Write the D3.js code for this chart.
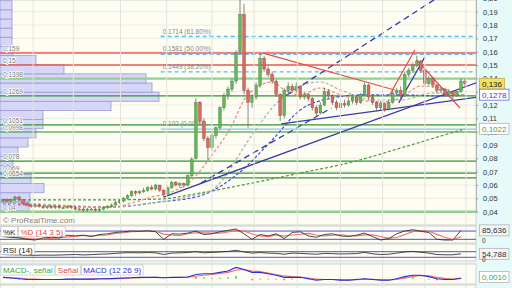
<!DOCTYPE html>
<html>
<head>
<meta charset="utf-8">
<script src="https://cdn.jsdelivr.net/npm/d3@7"></script>
<style>
html, body { margin: 0; padding: 0; background: #fff; }
svg { display: block; font-family: "Liberation Sans", Arial, sans-serif; }
</style>
</head>
<body>
<div id="chart"></div>
<script>
// daily candles (price in EUR)
const opens  = [0.048,0.049,0.048,0.049,0.051,0.049,0.046,0.045,0.044,0.045,0.044,0.043,0.044,0.043,0.044,0.043,0.043,0.044,0.043,0.042,0.042,0.041,0.042,0.042,0.041,0.042,0.043,0.044,0.045,0.047,0.048,0.050,0.052,0.055,0.054,0.055,0.056,0.058,0.057,0.060,0.056,0.053,0.058,0.062,0.060,0.061,0.060,0.067,0.080,0.122,0.108,0.095,0.088,0.097,0.103,0.118,0.127,0.132,0.138,0.160,0.188,0.131,0.122,0.126,0.135,0.155,0.147,0.143,0.138,0.128,0.112,0.131,0.134,0.131,0.134,0.126,0.128,0.125,0.118,0.114,0.120,0.130,0.127,0.122,0.118,0.121,0.120,0.123,0.126,0.122,0.128,0.135,0.126,0.122,0.118,0.121,0.117,0.122,0.129,0.131,0.127,0.143,0.146,0.150,0.153,0.146,0.136,0.140,0.135,0.131,0.132,0.128,0.130,0.127,0.130,0.138];
const highs  = [0.050,0.050,0.050,0.052,0.052,0.049,0.047,0.046,0.046,0.046,0.045,0.045,0.045,0.045,0.045,0.044,0.045,0.045,0.044,0.043,0.043,0.043,0.043,0.043,0.043,0.044,0.045,0.046,0.048,0.049,0.051,0.053,0.056,0.056,0.056,0.058,0.059,0.060,0.061,0.060,0.057,0.059,0.063,0.063,0.062,0.062,0.068,0.081,0.125,0.123,0.110,0.097,0.099,0.104,0.119,0.129,0.134,0.140,0.161,0.199,0.196,0.133,0.128,0.137,0.159,0.157,0.149,0.145,0.139,0.129,0.133,0.137,0.136,0.137,0.135,0.130,0.129,0.126,0.120,0.122,0.133,0.132,0.128,0.124,0.123,0.124,0.125,0.128,0.127,0.129,0.137,0.136,0.128,0.123,0.123,0.122,0.124,0.131,0.133,0.134,0.145,0.148,0.152,0.157,0.154,0.147,0.142,0.141,0.136,0.134,0.133,0.132,0.131,0.131,0.140,0.140];
const lows   = [0.047,0.047,0.047,0.048,0.048,0.045,0.044,0.043,0.043,0.043,0.042,0.042,0.042,0.042,0.042,0.042,0.042,0.042,0.041,0.041,0.040,0.040,0.041,0.040,0.040,0.041,0.042,0.043,0.044,0.046,0.047,0.049,0.051,0.052,0.053,0.054,0.055,0.056,0.056,0.055,0.051,0.052,0.057,0.059,0.058,0.058,0.059,0.066,0.079,0.106,0.093,0.079,0.086,0.095,0.101,0.116,0.124,0.130,0.136,0.158,0.128,0.103,0.118,0.124,0.133,0.145,0.141,0.136,0.126,0.108,0.110,0.129,0.129,0.129,0.124,0.124,0.123,0.116,0.111,0.113,0.119,0.125,0.120,0.116,0.117,0.118,0.119,0.121,0.120,0.121,0.127,0.124,0.120,0.115,0.116,0.115,0.116,0.121,0.127,0.124,0.126,0.141,0.144,0.148,0.144,0.134,0.135,0.133,0.129,0.129,0.126,0.127,0.124,0.126,0.129,0.134];
const closes = [0.049,0.048,0.049,0.051,0.049,0.046,0.045,0.044,0.045,0.044,0.043,0.044,0.043,0.044,0.043,0.043,0.044,0.043,0.042,0.042,0.041,0.042,0.042,0.041,0.042,0.043,0.044,0.045,0.047,0.048,0.050,0.052,0.055,0.054,0.055,0.056,0.058,0.057,0.060,0.056,0.053,0.058,0.062,0.060,0.061,0.060,0.067,0.079,0.122,0.108,0.095,0.088,0.097,0.103,0.118,0.127,0.132,0.138,0.159,0.188,0.131,0.122,0.126,0.135,0.155,0.147,0.143,0.138,0.128,0.112,0.131,0.134,0.131,0.134,0.126,0.128,0.125,0.118,0.114,0.120,0.130,0.127,0.122,0.118,0.121,0.120,0.123,0.126,0.122,0.128,0.135,0.126,0.122,0.118,0.121,0.117,0.122,0.129,0.131,0.127,0.143,0.146,0.150,0.153,0.146,0.136,0.140,0.135,0.131,0.132,0.128,0.130,0.127,0.130,0.138,0.136];

// moving averages: [candle index, price]
const maFast = [[0,0.0465],[9,0.045],[19,0.0435],[27,0.0435],[32,0.0465],[37,0.051],[42,0.0548],[47,0.0638],[52,0.0825],[57,0.105],[60,0.1238],[63,0.1328],[67,0.1373],[70,0.1313],[74,0.1276],[79,0.1328],[84,0.1276],[89,0.1238],[94,0.1223],[99,0.1253],[104,0.1343],[109,0.1328],[114,0.126]];
const maMid  = [[0,0.0473],[14,0.045],[27,0.0435],[37,0.0465],[47,0.0518],[52,0.0563],[62,0.0975],[67,0.1178],[72,0.1313],[79,0.1373],[84,0.1313],[92,0.1238],[99,0.1238],[107,0.129],[115,0.1276]];
const maSlow = [[0,0.0458],[14,0.0443],[27,0.0435],[39,0.0473],[49,0.0518],[59,0.0698],[67,0.0938],[74,0.1163],[82,0.1253],[89,0.1276],[99,0.1276],[109,0.1268],[115,0.1278]];
const maLong = [[0,0.0488],[24,0.0488],[39,0.0495],[49,0.054],[62,0.0615],[74,0.069],[87,0.0773],[99,0.0878],[115,0.1022]];

// trend lines: [index0, price0, index1, price1]
const navyLines   = [[40,0.051,118.25,0.1372],[69.25,0.1058,118.25,0.126],[98.5,0.1215,105,0.156]];
const navyDashed  = [[70.5,0.1272,117.5,0.2188],[49.25,0.0615,81.75,0.1178]];
const redLines    = [[64.75,0.159,97.5,0.1313],[96.25,0.1275,102.5,0.1613],[103,0.1538,113.75,0.1178]];

// horizontal levels
const redLevels   = [0.159, 0.15];
const paleLevels  = [0.1398, 0.04];
const greenLevels = [0.1269, 0.1051, 0.0998, 0.078, 0.069, 0.0654];
const fibLevels   = [0.1714, 0.1581, 0.1449];
const fibPct      = ["61.80%", "50.00%", "38.20%"];
const fibBase     = 0.102;
const fibStart    = 39.25;

// volume profile, bottom bin first
const vpBottom = 0.0405, vpStep = 0.00686;
const vpVolumes = [2.9,3.0,4.4,3.1,1.3,1.3,1.8,2.8,3.6,4.3,4.3,11.1,15.9,15.2,14.6,6.4,3.6,1.3,1.2,1.2,1.2,1.2,1.2];

const priceTicks = [0.04,0.05,0.06,0.07,0.08,0.09,0.10,0.11,0.12,0.13,0.14,0.15,0.16,0.17,0.18,0.19,0.20];
const gridIdx = [7.5,17.5,29.25,40.75,52,62.5,73.25,84,94.5,105,115.25];

// indicators, one value every 2 candles
const stochK = [40,35,30,20,15,30,35,30,50,45,50,40,55,60,70,75,80,78,82,75,20,60,58,65,80,55,60,75,85,95,60,20,55,45,60,25,70,75,45,35,55,60,45,40,50,65,40,15,25,60,80,90,78,70,20,15,15,85];
const stochD = [42,38,33,27,22,22,27,32,38,42,48,45,48,52,62,68,75,78,80,78,58,52,46,61,68,67,65,65,73,85,80,58,45,40,52,43,52,57,63,52,45,50,53,48,45,52,52,40,27,33,55,76,83,79,56,35,17,38];
const rsi = [50,48,47,45,44,46,45,46,48,50,47,49,52,54,58,62,63,62,64,62,50,60,62,64,70,62,65,68,72,80,68,60,64,60,58,52,60,58,55,52,58,56,54,55,57,65,55,50,52,60,68,72,66,60,50,48,48,55];
const macd = [0.002,0.001,0,-0.001,-0.001,-0.001,-0.001,-0.001,-0.0005,-0.0005,-0.0005,-0.0005,0,0,0.0005,0.001,0.0015,0.002,0.002,0.002,0.0015,0.002,0.002,0.0025,0.006,0.007,0.007,0.009,0.011,0.016,0.013,0.009,0.009,0.007,0.005,0.002,0.002,0.002,0,-0.002,-0.001,-0.001,-0.002,-0.002,-0.001,0,-0.001,-0.002,-0.002,0,0.003,0.005,0.005,0.003,0,-0.001,-0.001,0.001];
const signal = [0.002,0.0015,0.001,0,-0.0005,-0.001,-0.001,-0.001,-0.001,-0.0008,-0.0006,-0.0005,-0.0003,-0.0002,0,0.0005,0.001,0.0015,0.0018,0.002,0.0018,0.0018,0.002,0.0022,0.0035,0.005,0.006,0.0075,0.009,0.012,0.013,0.011,0.010,0.008,0.006,0.004,0.003,0.0025,0.001,-0.0005,-0.001,-0.001,-0.0015,-0.0018,-0.0015,-0.0008,-0.0008,-0.0015,-0.0018,-0.001,0.001,0.003,0.0045,0.004,0.002,0.0005,-0.0005,0];

const W = 512, H = 288, R = 476;
const n = closes.length;
const fmt = v => String(v).replace('.', ',');

const svg = d3.select('#chart').append('svg').attr('width', W).attr('height', H);
svg.append('rect').attr('width', W).attr('height', H).attr('fill', '#e6fafa');

const xi = d3.scaleLinear().domain([-0.5, n - 0.5]).range([1, 467]);
const step = xi(1) - xi(0);
const bw = step * 0.68;
const y = d3.scaleLinear().domain([0.04, 0.20]).range([211.7, -1.6]);

// panels
const panels = [[0, 225], [226, 243], [244, 261], [264, 284], [285, 300]];
panels.forEach(p => {
  svg.append('rect').attr('x', 0).attr('y', p[0]).attr('width', R).attr('height', p[1] - p[0])
    .attr('fill', '#fdfdf3').attr('stroke', '#c9c9c9').attr('stroke-width', 0.8);
});

svg.append('defs').append('clipPath').attr('id', 'main')
  .append('rect').attr('x', 0).attr('y', 0).attr('width', R).attr('height', 225);
const main = svg.append('g').attr('clip-path', 'url(#main)');

// grid
main.selectAll('.hg').data(priceTicks).enter().append('line')
  .attr('x1', 0).attr('x2', R).attr('y1', d => y(d)).attr('y2', d => y(d))
  .attr('stroke', '#ebebe2').attr('stroke-width', 1);
gridIdx.forEach(g => {
  svg.append('line').attr('x1', xi(g)).attr('x2', xi(g)).attr('y1', 0).attr('y2', 288)
    .attr('stroke', '#e4e4dc').attr('stroke-width', 1);
});

// volume profile
const vpX = d3.scaleLinear().domain([0, 16]).range([0, 160]);
main.selectAll('.vp').data(vpVolumes).enter().append('rect')
  .attr('x', 0)
  .attr('y', (d, k) => y(vpBottom + (k + 1) * vpStep))
  .attr('width', d => vpX(d))
  .attr('height', (d, k) => y(vpBottom + k * vpStep) - y(vpBottom + (k + 1) * vpStep))
  .attr('fill', '#d6d6f6').attr('stroke', '#9a9ad8').attr('stroke-width', 0.8);

// horizontal levels
const hline = (v, color, w) => main.append('line').attr('x1', 0).attr('x2', R)
  .attr('y1', y(v)).attr('y2', y(v)).attr('stroke', color).attr('stroke-width', w);
paleLevels.forEach(v => hline(v, '#92d092', 2.4));
greenLevels.forEach(v => hline(v, '#2f962f', 1.2));
redLevels.forEach(v => hline(v, '#e85a5a', 1.4));

// fibonacci
fibLevels.forEach((v, k) => {
  main.append('line').attr('x1', xi(fibStart)).attr('x2', R).attr('y1', y(v)).attr('y2', y(v))
    .attr('stroke', '#4ec0ef').attr('stroke-width', 1.4).attr('stroke-dasharray', '4,3');
  main.append('text').attr('x', xi(fibStart) + 2).attr('y', y(v) - 3)
    .attr('font-size', 6.5).attr('fill', '#888').text(v + ' (' + fibPct[k] + ')');
});
main.append('line').attr('x1', xi(fibStart)).attr('x2', R).attr('y1', y(fibBase)).attr('y2', y(fibBase))
  .attr('stroke', '#86c6ee').attr('stroke-width', 1.2);
main.append('text').attr('x', xi(fibStart) + 2).attr('y', y(fibBase) - 3)
  .attr('font-size', 6.5).attr('fill', '#888').text(fibBase + ' (0.00%)');

// moving averages
const maLine = d3.line().x(d => xi(d[0])).y(d => y(d[1])).curve(d3.curveMonotoneX);
[[maLong, '#4a9a3a'], [maSlow, '#3a4ee0'], [maMid, '#b0b0a8'], [maFast, '#f08a80']].forEach(m => {
  main.append('path').attr('d', maLine(m[0])).attr('fill', 'none')
    .attr('stroke', m[1]).attr('stroke-width', 1.2).attr('stroke-dasharray', '3,2');
});

// trend lines
const seg = (d, color, dash, w) => main.append('line')
  .attr('x1', xi(d[0])).attr('y1', y(d[1])).attr('x2', xi(d[2])).attr('y2', y(d[3]))
  .attr('stroke', color).attr('stroke-width', w).attr('stroke-dasharray', dash);
navyLines.forEach(d => seg(d, '#3a3aaa', null, 1.3));
navyDashed.forEach(d => seg(d, '#3a3aaa', '6,4', 1.3));
redLines.forEach(d => seg(d, '#f04848', null, 1.2));

// candles
const cg = main.append('g');
closes.forEach((c, i) => {
  const o = opens[i], up = c >= o;
  cg.append('line').attr('x1', xi(i)).attr('x2', xi(i)).attr('y1', y(highs[i])).attr('y2', y(lows[i]))
    .attr('stroke', '#6a6a6a').attr('stroke-width', 0.8);
  cg.append('rect').attr('x', xi(i) - bw / 2).attr('width', bw)
    .attr('y', y(Math.max(o, c))).attr('height', Math.max(1, Math.abs(y(o) - y(c))))
    .attr('fill', up ? '#68b45c' : '#d86a60').attr('stroke', up ? '#3f7f38' : '#9a3a34').attr('stroke-width', 0.4);
});

// level labels on the left
[...redLevels, ...paleLevels, ...greenLevels].forEach(v => {
  main.append('text').attr('x', 3).attr('y', y(v) - 2).attr('font-size', 6.5)
    .attr('fill', '#777').attr('stroke', '#fff').attr('stroke-width', 1.6).attr('paint-order', 'stroke')
    .text(fmt(v));
});

main.append('text').attr('x', 3).attr('y', 223).attr('font-size', 8).attr('fill', '#808080')
  .text('\u00A9 ProRealTime.com');

// right axis
const ax = svg.append('g').attr('transform', 'translate(' + R + ',0)')
  .call(d3.axisRight(y).tickValues(priceTicks).tickSize(2).tickPadding(5)
    .tickFormat(d => d3.format('.2f')(d).replace('.', ',')));
ax.select('.domain').attr('stroke', '#b8b8b8');
ax.selectAll('.tick line').attr('stroke', '#999');
ax.selectAll('text').attr('font-size', 7.5).attr('fill', '#333')
  .attr('font-family', '"Liberation Sans", Arial, sans-serif');

const tag = (yc, text, fill, stroke, color) => {
  const g = svg.append('g');
  const t = g.append('text').attr('x', 482).attr('y', yc + 3).attr('font-size', 8).attr('fill', color).text(text);
  const wTxt = t.node().getComputedTextLength();
  g.insert('rect', 'text').attr('x', 479.5).attr('y', yc - 5.5).attr('width', wTxt + 5).attr('height', 11)
    .attr('fill', fill).attr('stroke', stroke).attr('stroke-width', 0.7);
};
tag(y(closes[n - 1]), fmt(closes[n - 1]), '#f3e163', '#b8a640', '#222');
tag(y(maSlow[maSlow.length - 1][1]), fmt(maSlow[maSlow.length - 1][1]), '#fff', '#5a5ad0', '#3a3ad0');
tag(y(maLong[maLong.length - 1][1]), fmt(maLong[maLong.length - 1][1]), '#fff', '#aaa', '#3aa83a');

// indicator panels
const ix = j => xi(j * 2);
const label = (x0, yc, text, color) => {
  const t = svg.append('text').attr('x', x0 + 2).attr('y', yc + 3).attr('font-size', 8).attr('fill', color).text(text);
  const w = t.node().getComputedTextLength();
  svg.insert('rect', () => t.node()).attr('x', x0).attr('y', yc - 5).attr('width', w + 4).attr('height', 10)
    .attr('fill', '#fff').attr('stroke', '#c4c4c4').attr('stroke-width', 0.7);
  return x0 + w + 6;
};
const zero = yb => svg.append('text').attr('x', 482).attr('y', yb).attr('font-size', 6.5).attr('fill', '#333').text('0');

// stochastic
const ys = d3.scaleLinear().domain([0, 100]).range([242.1, 228.3]);
[20, 80].forEach(v => svg.append('line').attr('x1', 0).attr('x2', R).attr('y1', ys(v)).attr('y2', ys(v))
  .attr('stroke', '#4040c8').attr('stroke-width', 0.9));
const sl = d3.line().x((d, j) => ix(j)).y(d => ys(d));
svg.append('path').attr('d', sl(stochD)).attr('fill', 'none').attr('stroke', '#f07070').attr('stroke-width', 1.1);
svg.append('path').attr('d', sl(stochK)).attr('fill', 'none').attr('stroke', '#333').attr('stroke-width', 0.9);
let lx = label(1, 231.5, '%K', '#222');
label(lx - 1, 231.5, '%D (14 3 5)', '#e04848');
tag(ys(stochK[stochK.length - 1]), '85,636', '#f4f4f4', '#aaa', '#333');
zero(243);

// RSI
const yr = d3.scaleLinear().domain([0, 100]).range([261.5, 247.5]);
[30, 70].forEach(v => svg.append('line').attr('x1', 0).attr('x2', R).attr('y1', yr(v)).attr('y2', yr(v))
  .attr('stroke', '#4040c8').attr('stroke-width', 0.9));
svg.append('path').attr('d', d3.line().x((d, j) => ix(j)).y(d => yr(d))(rsi))
  .attr('fill', 'none').attr('stroke', '#333').attr('stroke-width', 0.9);
label(1, 249.5, 'RSI (14)', '#222');
tag(yr(rsi[rsi.length - 1]), '54,788', '#f4f4f4', '#aaa', '#333');
zero(262);

// MACD
const ym = d3.scaleLinear().domain([-0.006, 0.018]).range([283, 266]);
svg.selectAll('.hist').data(macd).enter().append('line')
  .attr('x1', (d, j) => ix(j)).attr('x2', (d, j) => ix(j))
  .attr('y1', ym(0)).attr('y2', (d, j) => ym(d - signal[j]))
  .attr('stroke', (d, j) => d - signal[j] >= 0 ? '#4caf50' : '#e05050').attr('stroke-width', 1.4);
svg.append('path').attr('d', d3.line().x((d, j) => ix(j)).y(d => ym(d))(signal))
  .attr('fill', 'none').attr('stroke', '#f07070').attr('stroke-width', 1.1);
svg.append('path').attr('d', d3.line().x((d, j) => ix(j)).y(d => ym(d))(macd))
  .attr('fill', 'none').attr('stroke', '#2a2ae0').attr('stroke-width', 1.1);
lx = label(1, 270, 'MACD-, se\u00F1al', '#3aa83a');
lx = label(lx - 1, 270, 'Se\u00F1al', '#e04848');
label(lx - 1, 270, 'MACD (12 26 9)', '#3030d0');
tag(ym(0.001) - 1, '0,0010', '#fff', '#aaa', '#3aa83a');

// volume (cut off at the bottom)
svg.append('text').attr('x', 3).attr('y', 294).attr('font-size', 8).attr('fill', '#e04848').text('Volumen');
svg.append('text').attr('x', 483).attr('y', 294).attr('font-size', 8).attr('fill', '#e04848').text('14,8M');
</script>
</body>
</html>
